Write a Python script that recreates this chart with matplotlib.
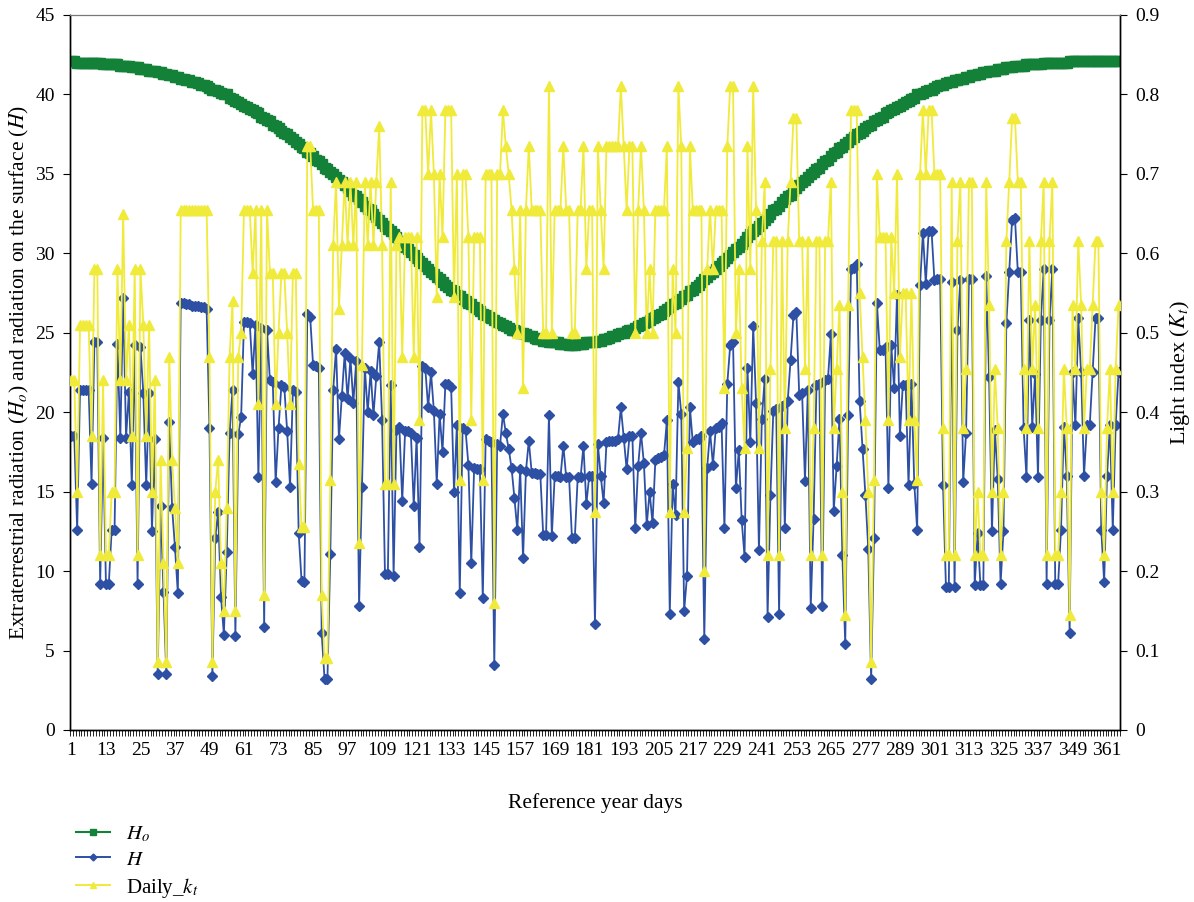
import numpy as np
import matplotlib
matplotlib.use('Agg')
import matplotlib.pyplot as plt
from matplotlib.lines import Line2D

plt.rcParams['font.family'] = ['Liberation Serif', 'DejaVu Serif']
plt.rcParams['mathtext.fontset'] = 'stix'

### day of the reference year
days = list(range(1, 366))

### extraterrestrial radiation Ho (left axis)
ho = [42.1, 42.1, 42.0, 42.0, 42.0, 42.0, 42.0, 42.0, 42.0, 42.0,
      42.0, 41.9, 41.9, 41.9, 41.9, 41.9, 41.9, 41.8, 41.8, 41.8,
      41.8, 41.7, 41.7, 41.7, 41.6, 41.6, 41.6, 41.5, 41.5, 41.5,
      41.4, 41.4, 41.3, 41.3, 41.2, 41.2, 41.1, 41.1, 41.0, 41.0,
      40.9, 40.9, 40.8, 40.8, 40.7, 40.6, 40.6, 40.5, 40.4, 40.3,
      40.3, 40.2, 40.1, 40.0, 40.0, 39.8, 39.7, 39.6, 39.5, 39.4,
      39.3, 39.2, 39.1, 39.0, 38.9, 38.8, 38.6, 38.5, 38.4, 38.3,
      38.1, 38.0, 37.9, 37.7, 37.6, 37.5, 37.3, 37.2, 37.0, 36.9,
      36.7, 36.6, 36.4, 36.3, 36.1, 35.9, 35.8, 35.6, 35.4, 35.3,
      35.1, 35.0, 34.8, 34.6, 34.5, 34.3, 34.1, 33.9, 33.7, 33.6,
      33.4, 33.2, 33.0, 32.8, 32.7, 32.5, 32.3, 32.1, 31.9, 31.7,
      31.5, 31.4, 31.2, 31.0, 30.8, 30.6, 30.4, 30.3, 30.1, 29.9,
      29.7, 29.5, 29.4, 29.2, 29.0, 28.8, 28.7, 28.5, 28.4, 28.2,
      28.0, 27.9, 27.7, 27.6, 27.4, 27.3, 27.1, 27.0, 26.9, 26.8,
      26.6, 26.5, 26.4, 26.2, 26.1, 26.0, 25.9, 25.8, 25.7, 25.6,
      25.5, 25.4, 25.3, 25.2, 25.2, 25.1, 25.0, 25.0, 24.9, 24.8,
      24.8, 24.7, 24.6, 24.6, 24.5, 24.5, 24.4, 24.4, 24.4, 24.4,
      24.3, 24.3, 24.3, 24.2, 24.2, 24.2, 24.3, 24.3, 24.3, 24.4,
      24.4, 24.4, 24.4, 24.5, 24.5, 24.6, 24.6, 24.7, 24.8, 24.8,
      24.9, 25.0, 25.0, 25.1, 25.2, 25.2, 25.3, 25.4, 25.5, 25.6,
      25.7, 25.8, 25.9, 26.0, 26.1, 26.2, 26.4, 26.5, 26.6, 26.8,
      26.9, 27.0, 27.1, 27.3, 27.4, 27.6, 27.7, 27.9, 28.0, 28.2,
      28.4, 28.5, 28.7, 28.8, 29.0, 29.2, 29.4, 29.5, 29.7, 29.9,
      30.1, 30.3, 30.4, 30.6, 30.8, 31.0, 31.2, 31.4, 31.5, 31.7,
      31.9, 32.1, 32.3, 32.5, 32.7, 32.8, 33.0, 33.2, 33.4, 33.6,
      33.7, 33.9, 34.1, 34.3, 34.5, 34.6, 34.8, 35.0, 35.1, 35.3,
      35.4, 35.6, 35.8, 35.9, 36.1, 36.3, 36.4, 36.6, 36.7, 36.9,
      37.0, 37.2, 37.3, 37.5, 37.6, 37.7, 37.9, 38.0, 38.1, 38.3,
      38.4, 38.5, 38.6, 38.8, 38.9, 39.0, 39.1, 39.2, 39.3, 39.4,
      39.5, 39.6, 39.7, 39.8, 40.0, 40.0, 40.1, 40.2, 40.3, 40.3,
      40.4, 40.5, 40.6, 40.6, 40.7, 40.8, 40.8, 40.9, 40.9, 41.0,
      41.0, 41.1, 41.1, 41.2, 41.2, 41.3, 41.3, 41.4, 41.4, 41.5,
      41.5, 41.5, 41.6, 41.6, 41.6, 41.7, 41.7, 41.7, 41.8, 41.8,
      41.8, 41.8, 41.9, 41.9, 41.9, 41.9, 41.9, 41.9, 42.0, 42.0,
      42.0, 42.0, 42.0, 42.0, 42.0, 42.0, 42.0, 42.1, 42.1, 42.1,
      42.1, 42.1, 42.1, 42.1, 42.1, 42.1, 42.1, 42.1, 42.1, 42.1,
      42.1, 42.1, 42.1, 42.1, 42.1]

### radiation on the surface H (left axis)
h = [18.5, 18.5, 12.6, 21.4, 21.4, 21.4, 21.4, 15.5, 24.4, 24.4,
     9.2, 18.4, 9.2, 9.2, 12.6, 12.6, 24.3, 18.4, 27.2, 18.4,
     21.3, 15.4, 24.2, 9.2, 24.1, 21.2, 15.4, 21.2, 12.5, 18.3,
     3.5, 14.1, 8.7, 3.5, 19.4, 14.0, 11.5, 8.6, 26.9, 26.9,
     26.8, 26.8, 26.7, 26.7, 26.7, 26.6, 26.6, 26.5, 19.0, 3.4,
     12.1, 13.7, 8.4, 6.0, 11.2, 18.7, 21.4, 5.9, 18.6, 19.7,
     25.7, 25.7, 25.6, 22.4, 25.5, 15.9, 25.3, 6.5, 25.2, 22.0,
     21.9, 15.6, 19.0, 21.7, 21.6, 18.8, 15.3, 21.4, 21.3, 12.4,
     9.4, 9.3, 26.2, 26.0, 23.0, 22.9, 22.8, 6.1, 3.2, 3.2,
     11.1, 21.4, 24.0, 18.3, 21.0, 23.7, 20.8, 23.4, 20.6, 23.2,
     7.8, 15.3, 22.8, 20.0, 22.6, 19.8, 22.3, 24.4, 19.5, 9.8,
     9.8, 21.7, 9.7, 18.9, 19.1, 14.4, 18.8, 18.8, 18.7, 14.1,
     18.4, 11.5, 22.9, 22.8, 20.3, 22.5, 20.1, 15.5, 19.9, 17.5,
     21.8, 21.8, 21.6, 15.0, 19.2, 8.6, 19.0, 18.9, 16.7, 10.5,
     16.5, 16.4, 16.4, 8.3, 18.3, 18.2, 18.1, 4.1, 18.0, 17.9,
     19.9, 18.7, 17.7, 16.5, 14.6, 12.6, 16.4, 10.8, 16.3, 18.2,
     16.2, 16.2, 16.1, 16.1, 12.3, 12.3, 19.8, 12.2, 16.0, 16.0,
     15.9, 17.9, 15.9, 15.9, 12.1, 12.1, 15.9, 15.9, 17.9, 14.2,
     16.0, 16.0, 6.7, 18.0, 16.0, 14.3, 18.1, 18.2, 18.2, 18.2,
     18.3, 20.3, 18.4, 16.4, 18.5, 18.5, 12.7, 16.6, 18.7, 16.8,
     12.9, 15.0, 13.0, 17.0, 17.1, 17.2, 17.3, 19.5, 7.3, 15.5,
     13.5, 21.9, 19.9, 7.5, 9.7, 20.3, 18.1, 18.3, 18.3, 18.5,
     5.7, 16.5, 18.8, 16.7, 19.0, 19.1, 19.3, 12.7, 21.8, 24.2,
     24.4, 15.2, 17.6, 13.2, 10.9, 22.8, 18.1, 25.4, 20.6, 11.3,
     19.6, 22.1, 7.1, 14.8, 20.1, 20.2, 7.3, 20.4, 12.7, 20.7,
     23.3, 26.1, 26.3, 21.1, 21.2, 15.7, 21.4, 7.7, 13.3, 21.7,
     21.8, 7.8, 22.0, 22.1, 24.9, 13.8, 16.6, 19.6, 11.0, 5.4,
     19.8, 29.0, 29.1, 29.3, 20.7, 17.7, 14.8, 11.4, 3.2, 12.1,
     26.9, 23.9, 23.9, 24.1, 15.2, 24.2, 21.5, 27.4, 18.5, 21.7,
     21.7, 15.4, 21.8, 15.5, 12.6, 28.0, 31.3, 28.1, 31.4, 31.4,
     28.3, 28.4, 28.4, 15.4, 9.0, 9.0, 28.2, 9.0, 25.2, 28.3,
     15.6, 18.7, 28.4, 28.4, 9.1, 12.4, 9.1, 9.1, 28.6, 22.2,
     12.5, 18.9, 15.8, 9.2, 12.5, 25.6, 28.8, 32.1, 32.2, 28.8,
     28.8, 19.0, 15.9, 25.8, 19.1, 22.4, 15.9, 25.8, 29.0, 9.2,
     25.8, 29.0, 9.2, 9.2, 12.6, 19.1, 16.0, 6.1, 22.5, 19.2,
     25.9, 22.5, 16.0, 19.2, 19.2, 22.5, 25.9, 25.9, 12.6, 9.3,
     16.0, 19.2, 12.6, 19.2, 22.5]

### daily light index kt (right axis)
kt = [.44, .44, .30, .51, .51, .51, .51, .37, .58, .58,
      .22, .44, .22, .22, .30, .30, .58, .44, .65, .44,
      .51, .37, .58, .22, .58, .51, .37, .51, .30, .44,
      .085, .34, .21, .085, .47, .34, .28, .21, .655, .655,
      .655, .655, .655, .655, .655, .655, .655, .655, .47, .085,
      .30, .34, .21, .15, .28, .47, .54, .15, .47, .50,
      .655, .655, .655, .575, .655, .41, .655, .17, .655, .575,
      .575, .41, .50, .575, .575, .50, .41, .575, .575, .335,
      .255, .255, .735, .735, .655, .655, .655, .17, .09, .09,
      .315, .61, .69, .53, .61, .69, .61, .69, .61, .69,
      .235, .46, .69, .61, .69, .61, .69, .76, .61, .31,
      .31, .69, .31, .61, .62, .47, .62, .62, .62, .47,
      .62, .39, .78, .78, .70, .78, .70, .545, .70, .62,
      .78, .78, .78, .545, .70, .315, .70, .70, .62, .39,
      .62, .62, .62, .315, .70, .70, .70, .16, .70, .70,
      .78, .735, .70, .655, .58, .50, .655, .43, .655, .735,
      .655, .655, .655, .655, .50, .50, .81, .50, .655, .655,
      .655, .735, .655, .655, .50, .50, .655, .655, .735, .58,
      .655, .655, .275, .735, .655, .58, .735, .735, .735, .735,
      .735, .81, .735, .655, .735, .735, .50, .655, .735, .655,
      .50, .58, .50, .655, .655, .655, .655, .735, .275, .58,
      .50, .81, .735, .275, .355, .735, .655, .655, .655, .655,
      .20, .58, .655, .58, .655, .655, .655, .43, .735, .81,
      .81, .50, .58, .43, .355, .735, .58, .81, .655, .355,
      .615, .69, .22, .455, .615, .615, .22, .615, .38, .615,
      .69, .77, .77, .615, .615, .455, .615, .22, .38, .615,
      .615, .22, .615, .615, .69, .38, .455, .535, .30, .145,
      .535, .78, .78, .78, .55, .47, .39, .30, .085, .315,
      .70, .62, .62, .62, .39, .62, .55, .70, .47, .55,
      .55, .39, .55, .39, .315, .70, .78, .70, .78, .78,
      .70, .70, .70, .38, .22, .22, .69, .22, .615, .69,
      .38, .455, .69, .69, .22, .30, .22, .22, .69, .535,
      .30, .455, .38, .22, .30, .615, .69, .77, .77, .69,
      .69, .455, .38, .615, .455, .535, .38, .615, .69, .22,
      .615, .69, .22, .22, .30, .455, .38, .145, .535, .455,
      .615, .535, .38, .455, .455, .535, .615, .615, .30, .22,
      .38, .455, .30, .455, .535]

x_labels = list(range(1, 366, 12))

green = '#148139'
blue = '#2E50A4'
yellow = '#F0EA3A'

fig = plt.figure(figsize=(11.94, 9.02), dpi=100)
ax = fig.add_axes([0.0586, 0.1907, 0.8794, 0.7927])
ax2 = ax.twinx()

ax.plot(days, ho, color=green, lw=1.5, marker='s', ms=6.8, mec=green, mfc=green, zorder=2)
ax.plot(days, h, color=blue, lw=1.3, marker='D', ms=5, mec=blue, mfc=blue, zorder=3)
ax2.plot(days, kt, color=yellow, lw=1.3, marker='^', ms=7.5, mec=yellow, mfc=yellow, zorder=3)

ax.set_xlim(0.5, 365.5)
ax.set_ylim(0, 45)
ax2.set_ylim(0, 0.9)
ax.set_yticks(np.arange(0, 46, 5))
ax2.set_yticks(np.arange(0, 0.91, 0.1))
ax2.set_yticklabels(['0'] + ['%.1f' % v for v in np.arange(0.1, 0.91, 0.1)])

ax.set_xticks(x_labels)
ax.set_xticks(np.arange(0.5, 366, 1), minor=True)
ax.tick_params(axis='x', which='major', length=0, pad=9, labelsize=14)
ax.tick_params(axis='x', which='minor', length=4, width=0.6, direction='out')
ax.tick_params(axis='y', length=5, width=0.8, labelsize=14, pad=6)
ax2.tick_params(axis='y', length=5, width=0.8, labelsize=14, pad=6)

for a in (ax, ax2):
    a.spines['top'].set_color('#777777')
    a.spines['top'].set_linewidth(0.8)
    for s in ('left', 'right', 'bottom'):
        a.spines[s].set_linewidth(1.0)

ax.set_ylabel('Extraterrestrial radiation ($H_o$) and radiation on the surface ($H$)',
              fontsize=15.5, labelpad=3)
ax2.set_ylabel('Light index ($K_t$)', fontsize=16, labelpad=6)
ax.set_xlabel('Reference year days', fontsize=15.5, labelpad=24)

handles = [Line2D([], [], color=green, lw=1.5, marker='s', ms=5),
           Line2D([], [], color=blue, lw=1.4, marker='D', ms=3.5),
           Line2D([], [], color=yellow, lw=1.4, marker='^', ms=5)]
labels = ['$H_o$', '$H$', 'Daily_$k_t$']
fig.legend(handles, labels, loc='upper left', bbox_to_anchor=(0.057, 0.095),
           frameon=False, fontsize=15, handlelength=1.6, labelspacing=0.28,
           handletextpad=0.8, borderaxespad=0)

fig.savefig('out.png', dpi=100)
